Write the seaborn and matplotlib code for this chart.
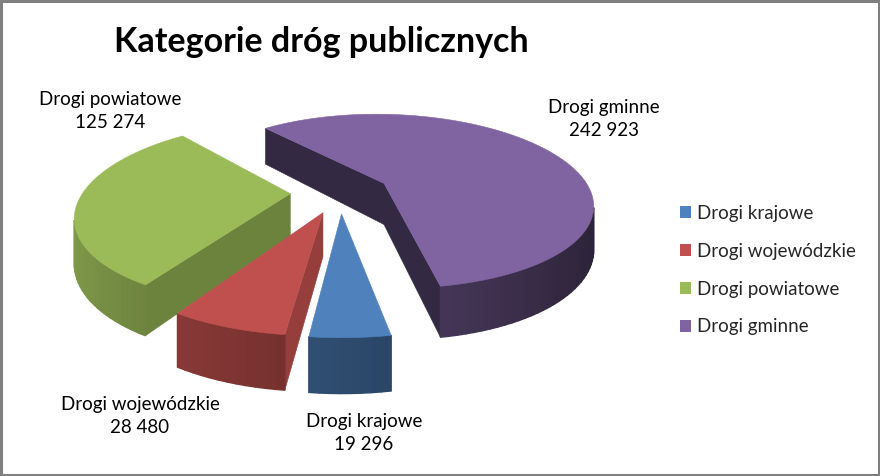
import numpy as np
import matplotlib
matplotlib.use("Agg")
import matplotlib.pyplot as plt
from matplotlib.patches import Patch, Polygon
import seaborn as sns

# -------------------------
# Data
# -------------------------
categories = ["Drogi krajowe", "Drogi wojewódzkie", "Drogi powiatowe", "Drogi gminne"]
values = [19296, 28480, 125274, 242923]
colors = ["#4f81bd", "#c0504d", "#9bbb59", "#8064a2"]
wall_shade = [0.75, 0.78, 0.70, 0.41]
label_xy = [(364, 433), (140, 416), (110, 111), (604, 119)]

# -------------------------
# Pie layout (pixels)
# -------------------------
X0, Y0 = 340, 192
RADIUS = 207
TILT = 0.42
EXPLODE = 0.24
DEPTH = 42
START = -10
PERSP_X, PERSP_Y, PERSP_Z = 0.22, 0.21, 0.2


def project(u, v, z=0.0):
    x = X0 + RADIUS * u / (1 - PERSP_X * v)
    y = Y0 + RADIUS * TILT * v / (1 - PERSP_Y * v) + z * DEPTH / (1 - PERSP_Z * v)
    return x, y


def shade(color, factor):
    rgb = np.array(matplotlib.colors.to_rgb(color))
    return tuple(np.clip(rgb * factor, 0, 1))


def area(points):
    p = np.array(points)
    return 0.5 * np.sum(p[:, 0] * np.roll(p[:, 1], -1) - np.roll(p[:, 0], -1) * p[:, 1])


def draw_quad(ax, a, b, color, zorder, lw=0.4):
    quad = [project(*a), project(*b), project(*b, 1), project(*a, 1)]
    # keep only the faces turned towards the viewer
    if area(quad) < 0:
        ax.add_patch(Polygon(quad, closed=True, fc=color, ec=color, lw=lw, zorder=zorder))


sns.set_theme(style="white")
plt.rcParams["font.family"] = ["Lato", "DejaVu Sans"]
palette = sns.color_palette(colors)

fig = plt.figure(figsize=(8.8, 4.76), dpi=100)
ax = fig.add_axes([0, 0, 1, 1])
ax.set_xlim(0, 880)
ax.set_ylim(476, 0)
ax.axis("off")

# -------------------------
# Slices, back ones first
# -------------------------
spans = np.array(values) / sum(values) * 360
starts = START + np.concatenate([[0], np.cumsum(spans)[:-1]])

for i in [3, 2, 1, 0]:
    base = palette[i]
    mid = np.radians(starts[i] + spans[i] / 2)
    cu, cv = -EXPLODE * np.sin(mid), EXPLODE * np.cos(mid)
    theta = np.radians(np.linspace(starts[i], starts[i] + spans[i], max(int(spans[i] / 2), 8) + 1))
    rim = [(cu - np.sin(t), cv + np.cos(t)) for t in theta]
    z = 3 + (3 - i) * 3

    wall = shade(base, wall_shade[i])
    draw_quad(ax, (cu, cv), rim[0], wall, z)
    draw_quad(ax, rim[-1], (cu, cv), wall, z)

    for j in range(len(rim) - 1):
        normal_u = -np.sin((theta[j] + theta[j + 1]) / 2)
        draw_quad(ax, rim[j], rim[j + 1], shade(base, 0.58 - 0.25 * normal_u), z + 1, lw=1.0)

    top = [project(cu, cv)] + [project(*p) for p in rim]
    ax.add_patch(Polygon(top, closed=True, fc=base, ec=base, lw=0.4, zorder=z + 2))

# -------------------------
# Texts
# -------------------------
for name, value, (x, y) in zip(categories, values, label_xy):
    text = f"{name}\n{value:,}".replace(",", " ")
    ax.text(x, y, text, ha="center", va="center", fontsize=13.5, color="black",
            linespacing=1.42, zorder=30)

ax.text(321.5, 42, "Kategorie dróg publicznych", ha="center", va="center",
        fontsize=24.5, fontweight="bold", color="black")

handles = [Patch(fc=c, ec="none") for c in palette]
ax.legend(handles, categories, loc="upper left", bbox_to_anchor=(680 / 880, 1 - 205 / 476),
          frameon=False, fontsize=13.5, handlelength=0.59, handleheight=0.59,
          handletextpad=0.32, labelspacing=1.11, borderpad=0, borderaxespad=0)

# grey picture border
ax.add_patch(plt.Rectangle((1, 1), 877.5, 473.5, fill=False, ec="#7f7f7f", lw=2.2, zorder=40))

fig.savefig("out.png", dpi=100)
